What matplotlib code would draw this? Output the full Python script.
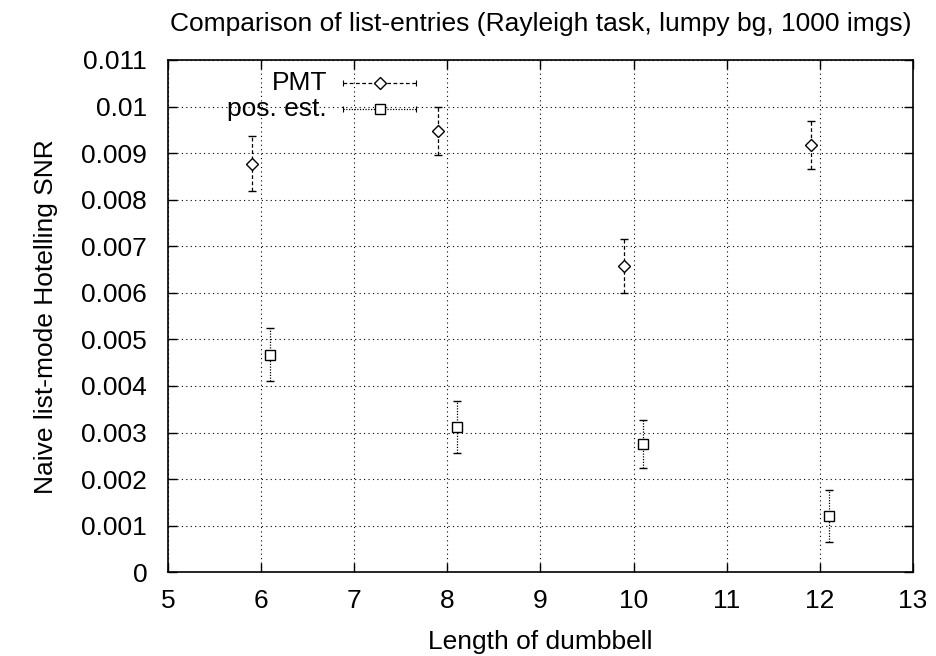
import numpy as np
import matplotlib
matplotlib.use('Agg')
import matplotlib.pyplot as plt

plt.rcParams['font.family'] = ['Liberation Sans', 'DejaVu Sans']

# data
pmt_x = [5.9, 7.9, 9.9, 11.9]
pmt_y = [0.00877, 0.00948, 0.00657, 0.00917]
pmt_err = [0.00059, 0.00052, 0.00058, 0.00052]

pos_x = [6.1, 8.1, 10.1, 12.1]
pos_y = [0.00467, 0.00312, 0.00275, 0.00121]
pos_err = [0.00057, 0.00055, 0.00052, 0.00055]

series = [
    ('PMT', pmt_x, pmt_y, pmt_err, 'D', (0, (3, 2))),
    ('pos. est.', pos_x, pos_y, pos_err, 's', (0, (1, 1.2))),
]

fig = plt.figure(figsize=(9.36, 6.56), dpi=100)
ax = fig.add_axes([0.1795, 0.1276, 0.7959, 0.7810])

for name, x, y, err, mk, ls in series:
    eb = ax.errorbar(x, y, yerr=err, fmt=mk, ms=6.5, mfc='white', mec='black',
                     mew=1.0, ecolor='black', elinewidth=0.9, capsize=2.8,
                     capthick=0.8, zorder=3)
    eb[2][0].set_linestyle(ls)

# gnuplot style key: right aligned text, sample line with caps
key_rows = [0.955, 0.9045]
for (name, x, y, err, mk, ls), ky in zip(series, key_rows):
    ax.text(0.2134, ky, name, transform=ax.transAxes, ha='right', va='center',
            fontsize=19)
    ax.plot([0.2349, 0.3329], [ky, ky], transform=ax.transAxes, color='black',
            lw=0.9, ls=ls, clip_on=False)
    ax.plot([0.2349, 0.3329], [ky, ky], transform=ax.transAxes, ls='none',
            marker='|', ms=5, mew=0.8, color='black', clip_on=False)
    ax.plot([0.2839], [ky], transform=ax.transAxes, ls='none', marker=mk,
            ms=6.5, mfc='white', mec='black', mew=1.0, clip_on=False)

ax.set_xlim(5, 13)
ax.set_ylim(0, 0.011)
ax.set_xticks(np.arange(5, 14, 1))
ax.set_yticks(np.arange(0, 0.0111, 0.001))
ax.set_yticklabels(['0', '0.001', '0.002', '0.003', '0.004', '0.005', '0.006',
                    '0.007', '0.008', '0.009', '0.01', '0.011'])

ax.grid(True, color='black', linestyle=(0, (1, 3)), linewidth=0.8)
ax.tick_params(direction='in', top=True, right=True, length=6.5, width=1,
               labelsize=19)
ax.tick_params(axis='y', pad=15)
ax.tick_params(axis='x', pad=12)
for s in ax.spines.values():
    s.set_linewidth(1.2)

ax.set_xlabel('Length of dumbbell', fontsize=19, labelpad=12)
ax.set_ylabel('Naive list-mode Hotelling SNR', fontsize=19, labelpad=17)
ax.set_title('Comparison of list-entries (Rayleigh task, lumpy bg, 1000 imgs)',
             fontsize=19, pad=21)

fig.savefig('out.png', dpi=100)
